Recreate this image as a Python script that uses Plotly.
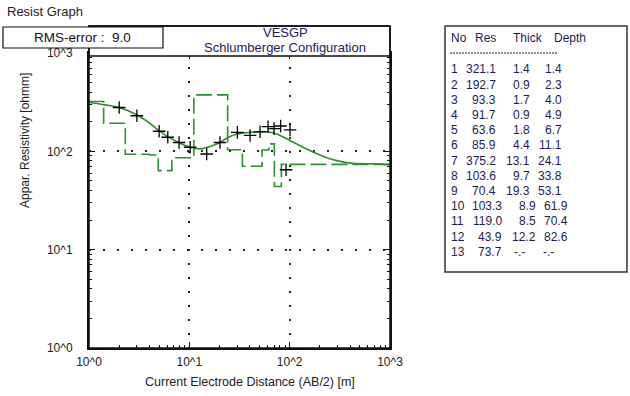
import plotly.graph_objects as go

# ---------------- data ----------------
# observed apparent resistivity (crosses)
obs_ab2 = [2.0, 3.0, 5.0, 6.1, 7.9, 10.2, 14.9, 20.2, 30.1, 40.3, 50.7, 60.9, 69.9, 81.2, 100.9, 92.1]
obs_rho = [279, 230, 160, 139, 123, 110, 94, 123, 156, 145, 158, 178, 170, 181, 165, 65]

# computed model curve (green solid)
fit_ab2 = [1.02, 1.44, 2.0, 3.03, 4.06, 4.99, 6.09, 7.95, 10.2, 12.8, 16.1, 20.2, 24.5, 30.1,
           40.3, 59.1, 74.3, 93.5, 127, 172, 234, 318, 432, 683, 1000]
fit_rho = [314, 297, 279, 234, 192, 162, 141, 122, 110, 106, 112, 123, 139, 150,
           156, 158, 150, 134, 114, 98, 86, 79, 75.5, 74.5, 73.3]

# layered model (table)
layer_no = list(range(1, 14))
layer_res = [321.1, 192.7, 93.3, 91.7, 63.6, 85.9, 375.2, 103.6, 70.4, 103.3, 119.0, 43.9, 73.7]
layer_thick = ["1.4", "0.9", "1.7", "0.9", "1.8", "4.4", "13.1", "9.7", "19.3", "8.9", "8.5", "12.2", "-.-"]
layer_depth = [1.4, 2.3, 4.0, 4.9, 6.7, 11.1, 24.1, 33.8, 53.1, 61.9, 70.4, 82.6]

x_tickvals = [1, 10, 100, 1000]
x_ticktext = ["10^0", "10^1", "10^2", "10^3"]
y_tickvals = [1, 10, 100, 1000]
y_ticktext = ["10^0", "10^1", "10^2", "10^3"]
minor_vals = [m * d for d in (1, 10, 100) for m in range(2, 10)]

rms_error = 9.0

# ---------------- figure ----------------
W, H = 630, 396
L, R, T, B = 89, 390, 53, 348
GREEN = "#2f8f2f"
NAVY = "#1c1c55"
FONT = "Liberation Sans, Arial, sans-serif"


def px_x(p):
    return (p - L) / (R - L)


def px_y(p):
    return (B - p) / (B - T)


step_x = [1] + layer_depth + [1000]
step_y = layer_res + [layer_res[-1]]

fig = go.Figure()
fig.add_trace(go.Scatter(x=step_x, y=step_y, mode="lines", line_shape="hv",
                         line=dict(color=GREEN, width=1.6, dash="16px,5px"),
                         showlegend=False, hoverinfo="skip"))
fig.add_trace(go.Scatter(x=fit_ab2, y=fit_rho, mode="lines", line_shape="spline",
                         line=dict(color=GREEN, width=1.6), showlegend=False))
fig.add_trace(go.Scatter(x=obs_ab2, y=obs_rho, mode="markers",
                         marker=dict(symbol="cross-thin", size=9,
                                     line=dict(color="black", width=1.3)),
                         showlegend=False))

axis_common = dict(
    type="log", range=[0, 3], showline=True, linecolor="#111", linewidth=2,
    mirror="ticks", ticks="inside", ticklen=6, tickcolor="#111", tickwidth=1,
    showgrid=True, gridcolor="#222", gridwidth=1.5, griddash="2px,12px",
    zeroline=False,
    tickfont=dict(family=FONT, size=12, color="#222"),
    minor=dict(tickvals=minor_vals, ticks="inside", ticklen=3, tickcolor="#111", showgrid=False),
)
fig.update_xaxes(**axis_common, tickvals=x_tickvals, ticktext=x_ticktext, ticklabelstandoff=2)
fig.update_yaxes(**axis_common, tickvals=y_tickvals, ticktext=y_ticktext, ticklabelstandoff=12)

shapes = []
# outer frame of plot incl. title box
shapes.append(dict(type="rect", xref="paper", yref="paper", x0=0, x1=1, y0=px_y(56), y1=px_y(26),
                   line=dict(color="#111", width=1.5), fillcolor="white", layer="above"))
shapes.append(dict(type="rect", xref="paper", yref="paper", x0=0, x1=1, y0=0, y1=px_y(26),
                   line=dict(color="#111", width=1.5), fillcolor="rgba(0,0,0,0)", layer="above"))
# RMS box
shapes.append(dict(type="rect", xref="paper", yref="paper", x0=px_x(3), x1=px_x(163),
                   y0=px_y(48), y1=px_y(27), line=dict(color="#111", width=1.2),
                   fillcolor="white", layer="above"))
# table box
shapes.append(dict(type="rect", xref="paper", yref="paper", x0=px_x(445), x1=px_x(627),
                   y0=px_y(272), y1=px_y(26), line=dict(color="#333", width=1.5),
                   fillcolor="white", layer="above"))
shapes.append(dict(type="line", xref="paper", yref="paper", x0=px_x(450), x1=px_x(557),
                   y0=px_y(53), y1=px_y(53), line=dict(color=NAVY, width=1, dash="2px,1px"),
                   layer="above"))

ann = []


def text(x, y, s, size=12, color="#222", xanchor="center", textangle=0):
    ann.append(dict(x=px_x(x), y=px_y(y), xref="paper", yref="paper", text=s, showarrow=False,
                    xanchor=xanchor, yanchor="middle", textangle=textangle,
                    font=dict(family=FONT, size=size, color=color)))


text(5, 11, "Resist Graph", size=13, color="#222", xanchor="left")
text(82, 38, f"RMS-error :  {rms_error:.1f}", size=13.5, color="#111")
text(285, 33, "VESGP", size=13, color=NAVY)
text(285, 47, "Schlumberger Configuration", size=13, color=NAVY)
text(25, 141, "Appar. Resistivity [ohmm]", size=12, color="#222", textangle=-90)
text(250, 382, "Current Electrode Distance (AB/2) [m]", size=12.5, color="#222")

# table
text(449, 38, "No", color=NAVY, xanchor="left")
text(498, 38, "Res", color=NAVY, xanchor="right")
text(545, 38, "Thick", color=NAVY, xanchor="right")
text(588, 38, "Depth", color=NAVY, xanchor="right")
for i, n in enumerate(layer_no):
    y = 69.3 + i * 15.2
    sh = 6 if n >= 10 else 0
    text(449, y, str(n), color=NAVY, xanchor="left")
    text(498 + sh, y, f"{layer_res[i]:.1f}", color=NAVY, xanchor="right")
    th = layer_thick[i]
    dp = f"{layer_depth[i]:.1f}" if i < len(layer_depth) else "-.-"
    if th == "-.-":
        text(527, y, th, color=NAVY, xanchor="right")
        text(556, y, dp, color=NAVY, xanchor="right")
    else:
        text(532 + sh, y, th, color=NAVY, xanchor="right")
        text(564 + sh, y, dp, color=NAVY, xanchor="right")

fig.update_layout(
    width=W, height=H, autosize=False,
    margin=dict(l=L, r=W - R, t=T, b=H - B, pad=0),
    paper_bgcolor="white", plot_bgcolor="white",
    shapes=shapes, annotations=ann, showlegend=False,
)

fig.write_html("out.html", config={"displayModeBar": False},
               post_script="document.body.style.margin='0';")
